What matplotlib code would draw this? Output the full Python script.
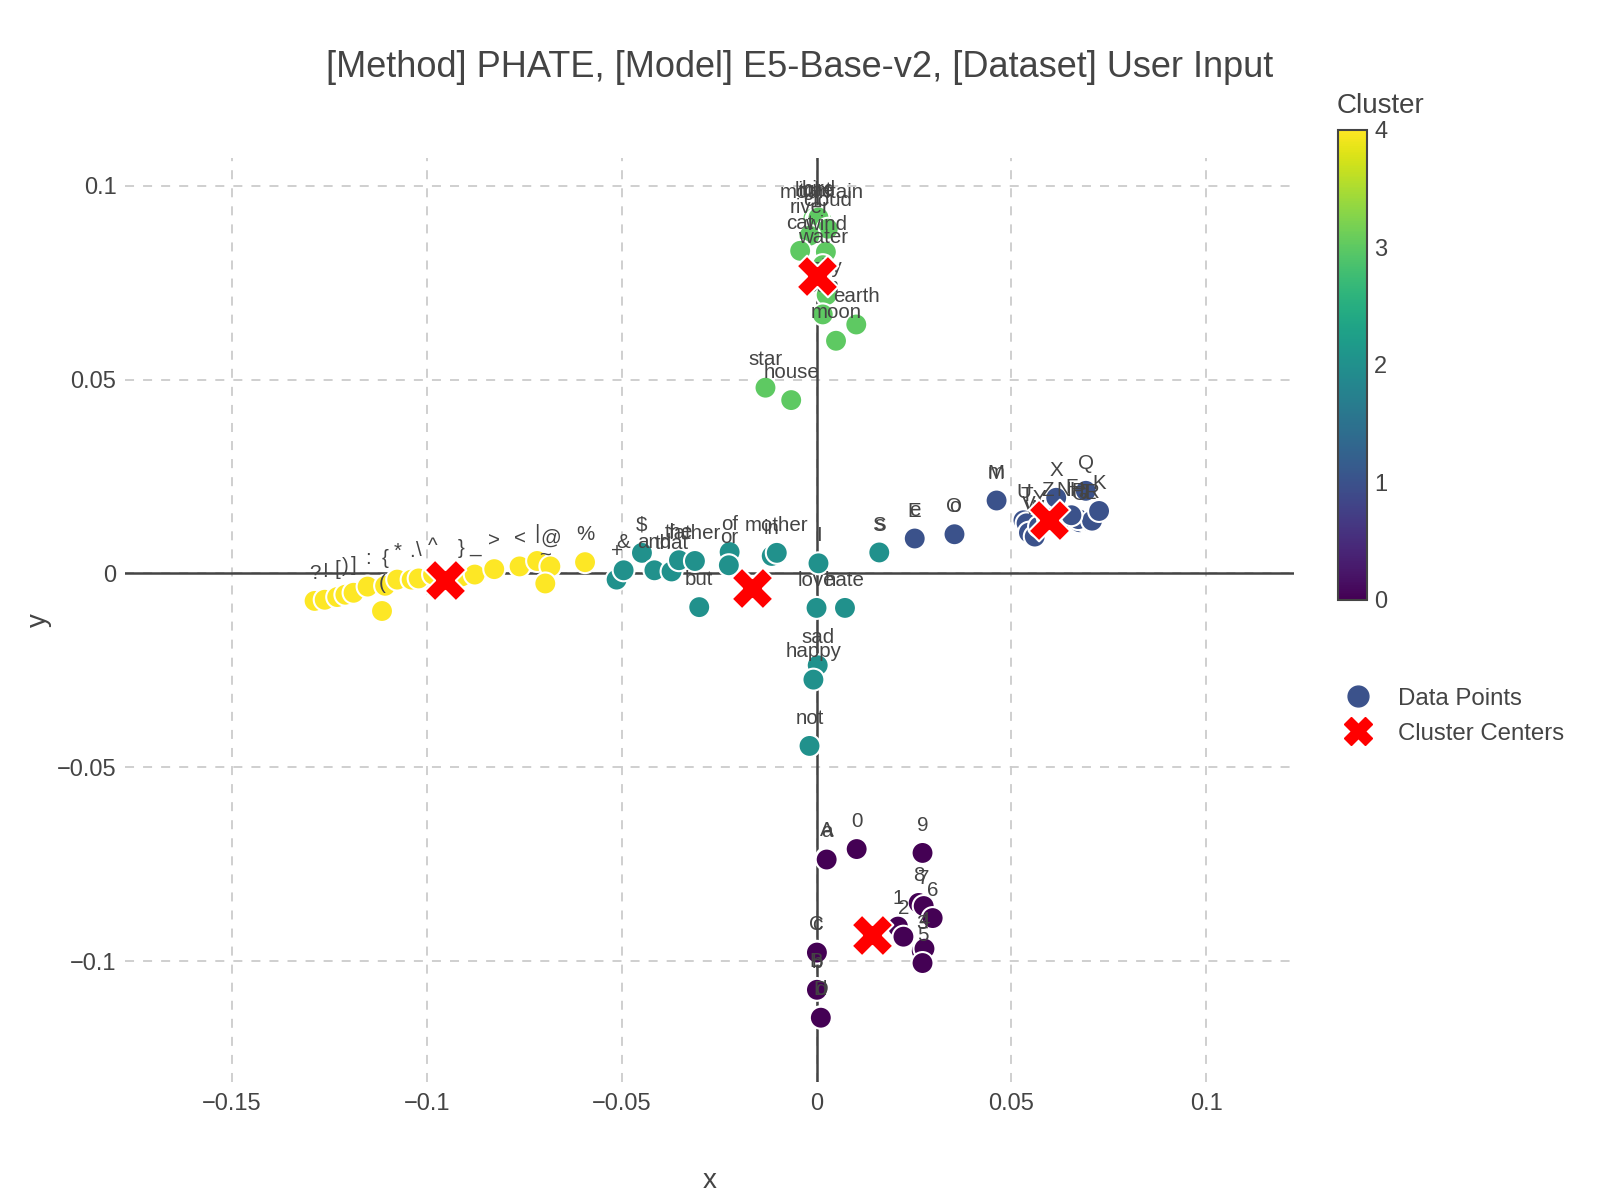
import numpy as np
import matplotlib.pyplot as plt
from matplotlib.lines import Line2D
from matplotlib.cm import ScalarMappable
from matplotlib.colors import Normalize

plt.rcParams['font.family'] = ['Liberation Sans', 'DejaVu Sans']

# Точки (слово, x, y, кластер)
words_0 = ['A', 'a', '0', '9', '8', '7', '6', '1', '2', '3', '4', '5', 'C', 'c', 'B', 'b', 'D', 'd']
x_0 = [0.0025, 0.0026, 0.0103, 0.0272, 0.0262, 0.0275, 0.0298, 0.0209, 0.0223, 0.0270, 0.0277, 0.0272,
       0.0000, 0.0001, 0.0000, 0.0001, 0.0010, 0.0011]
y_0 = [-0.0736, -0.0738, -0.0711, -0.0721, -0.0850, -0.0858, -0.0889, -0.0911, -0.0937, -0.0974, -0.0968,
       -0.1005, -0.0976, -0.0978, -0.1072, -0.1074, -0.1145, -0.1146]

words_1 = ['E', 'e', 'O', 'o', 'M', 'm', 'U', 'T', 'V', 'W', 'Y', 'Z', 'X', 'N', 'H', 'G', 'J', 'L',
           'P', 'Q', 'R', 'K', 'F']
x_1 = [0.0251, 0.0252, 0.0353, 0.0354, 0.0461, 0.0462, 0.0531, 0.0539, 0.0545, 0.0560, 0.0571, 0.0594,
       0.0615, 0.0634, 0.0668, 0.0675, 0.0686, 0.0702, 0.0672, 0.0691, 0.0707, 0.0725, 0.0654]
y_1 = [0.0089, 0.0090, 0.0100, 0.0101, 0.0187, 0.0188, 0.0137, 0.0129, 0.0105, 0.0095, 0.0121, 0.0142,
       0.0195, 0.0142, 0.0142, 0.0132, 0.0137, 0.0134, 0.0140, 0.0213, 0.0136, 0.0161, 0.0150]

words_2 = ['S', 's', '+', '&', '$', 'and', 'that', 'the', 'father', 'but', 'of', 'or', 'in', 'mother',
           'I', 'love', 'hate', 'sad', 'happy', 'not']
x_2 = [0.0160, 0.0161, -0.0513, -0.0495, -0.0448, -0.0416, -0.0372, -0.0353, -0.0312, -0.0301, -0.0223,
       -0.0225, -0.0115, -0.0102, 0.0005, 0.0000, 0.0073, 0.0003, -0.0008, -0.0018]
y_2 = [0.0053, 0.0054, -0.0016, 0.0008, 0.0053, 0.0008, 0.0005, 0.0034, 0.0032, -0.0087, 0.0055,
       0.0021, 0.0045, 0.0053, 0.0026, -0.0089, -0.0089, -0.0237, -0.0274, -0.0445]

words_3 = ['mountain', 'light', 'tree', 'bird', 'cloud', 'river', 'cat', 'wind', 'water', 'sky', 'sun',
           'earth', 'moon', 'star', 'house']
x_3 = [0.0013, -0.0008, 0.0000, 0.0005, 0.0029, -0.0018, -0.0042, 0.0024, 0.0016, 0.0026, 0.0016,
       0.0102, 0.0050, -0.0131, -0.0065]
y_3 = [0.0911, 0.0916, 0.0913, 0.0918, 0.0889, 0.0871, 0.0832, 0.0829, 0.0795, 0.0718, 0.0668,
       0.0642, 0.0600, 0.0479, 0.0447]

words_4 = ['?', '!', '[', ')', ']', ':', '(', '{', '*', '.', '\\', '^', '}', '_', '>', '<', '|', '@',
           '~', '%']
x_4 = [-0.1288, -0.1262, -0.1230, -0.1209, -0.1188, -0.1152, -0.1115, -0.1107, -0.1076, -0.1039,
       -0.1021, -0.0984, -0.0911, -0.0877, -0.0827, -0.0762, -0.0717, -0.0683, -0.0696, -0.0594]
y_4 = [-0.0071, -0.0068, -0.0061, -0.0055, -0.0050, -0.0034, -0.0097, -0.0032, -0.0016, -0.0016,
       -0.0013, -0.0003, -0.0008, -0.0003, 0.0011, 0.0018, 0.0032, 0.0018, -0.0026, 0.0029]

# Центры кластеров
center_x = [0.0142, 0.0597, -0.0166, 0.0000, -0.0953]
center_y = [-0.0932, 0.0137, -0.0038, 0.0768, -0.0016]

title = '[Method] PHATE, [Model] E5-Base-v2, [Dataset] User Input'
xtick_vals = [-0.15, -0.1, -0.05, 0, 0.05, 0.1]
xtick_labels = ['\u22120.15', '\u22120.1', '\u22120.05', '0', '0.05', '0.1']
ytick_vals = [-0.1, -0.05, 0, 0.05, 0.1]
ytick_labels = ['\u22120.1', '\u22120.05', '0', '0.05', '0.1']

words = words_0 + words_1 + words_2 + words_3 + words_4
xs = np.array(x_0 + x_1 + x_2 + x_3 + x_4)
ys = np.array(y_0 + y_1 + y_2 + y_3 + y_4)
clusters = np.array([0] * len(words_0) + [1] * len(words_1) + [2] * len(words_2)
                    + [3] * len(words_3) + [4] * len(words_4))

txt_color = '#444444'
fig = plt.figure(figsize=(16, 12), dpi=100)
ax = fig.add_axes([0.078, 0.0986, 0.7307, 0.7696])

ax.scatter(xs, ys, c=clusters, cmap='viridis', vmin=0, vmax=4, s=250,
           edgecolors='white', linewidths=1.5, zorder=3)
for w, x, y in zip(words, xs, ys):
    ax.annotate(w, (x, y), xytext=(0, 20), textcoords='offset points',
                ha='center', va='center', fontsize=14.8, color=txt_color, zorder=4)

ax.scatter(center_x, center_y, marker='X', s=900, color='red',
           edgecolors='white', linewidths=1.5, zorder=5)

ax.axhline(0, color=txt_color, lw=1.8, zorder=1)
ax.axvline(0, color=txt_color, lw=1.8, zorder=1)
ax.set_xlim(-0.1775, 0.1225)
ax.set_ylim(-0.1311, 0.1071)
ax.set_xticks(xtick_vals)
ax.set_xticklabels(xtick_labels)
ax.set_yticks(ytick_vals)
ax.set_yticklabels(ytick_labels)
ax.tick_params(length=0, labelsize=17, labelcolor=txt_color)
ax.tick_params(axis='x', pad=8)
ax.tick_params(axis='y', pad=6)
ax.grid(True, color='#cccccc', linestyle=(0, (5, 5)), linewidth=1.3, zorder=0)
ax.set_axisbelow(True)
for sp in ax.spines.values():
    sp.set_visible(False)

ax.set_xlabel('x', fontsize=20, color=txt_color)
ax.set_ylabel('y', fontsize=20, color=txt_color)
ax.xaxis.set_label_coords(0.5, -0.094)
ax.yaxis.set_label_coords(-0.062, 0.5)
fig.text(0.5, 0.944, title, ha='center', va='center', fontsize=26, color=txt_color)

# Цветовая шкала
cax = fig.add_axes([0.836, 0.5, 0.0185, 0.392])
cb = fig.colorbar(ScalarMappable(norm=Normalize(0, 4), cmap='viridis'), cax=cax)
cb.set_ticks([0, 1, 2, 3, 4])
cb.ax.tick_params(length=0, labelsize=17, labelcolor=txt_color, pad=5)
cb.outline.set_edgecolor(txt_color)
cb.outline.set_linewidth(1.5)
fig.text(0.8355, 0.912, 'Cluster', ha='left', va='center', fontsize=20, color=txt_color)

# Легенда
handles = [Line2D([], [], marker='o', ls='', color='#3b528b', markersize=15),
           Line2D([], [], marker='X', ls='', color='red', markersize=20)]
fig.legend(handles, ['Data Points', 'Cluster Centers'], loc='upper left',
           bbox_to_anchor=(0.82, 0.445), frameon=False, fontsize=17.3,
           labelcolor=txt_color, handletextpad=0.7, labelspacing=0.55)

fig.savefig('out.png')
